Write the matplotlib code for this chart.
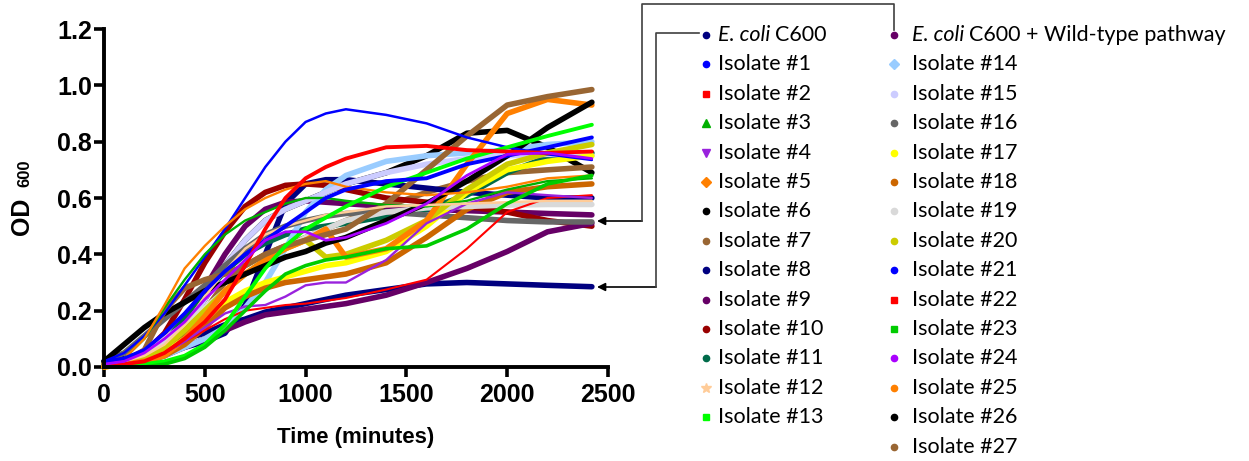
import matplotlib
matplotlib.use("Agg")
import matplotlib.pyplot as plt
from matplotlib.lines import Line2D

# ---------------- data ----------------
time_min = [0, 100, 200, 300, 400, 500, 600, 700, 800, 900, 1000, 1100, 1200,
            1400, 1600, 1800, 2000, 2200, 2420]

ecoli = [0.02, 0.03, 0.05, 0.07, 0.10, 0.12, 0.15, 0.17, 0.195, 0.21, 0.225, 0.24, 0.255, 0.275, 0.295, 0.30, 0.295, 0.29, 0.285]
wt_pathway = [0.01, 0.01, 0.02, 0.04, 0.07, 0.10, 0.13, 0.16, 0.185, 0.195, 0.205, 0.215, 0.225, 0.255, 0.30, 0.35, 0.41, 0.48, 0.51]
iso1 = [0.02, 0.05, 0.11, 0.19, 0.29, 0.39, 0.49, 0.60, 0.71, 0.80, 0.87, 0.90, 0.915, 0.895, 0.865, 0.815, 0.78, 0.755, 0.735]
iso2 = [0.00, 0.01, 0.02, 0.05, 0.09, 0.13, 0.17, 0.20, 0.21, 0.22, 0.225, 0.235, 0.245, 0.275, 0.31, 0.42, 0.55, 0.60, 0.61]
iso3 = [0.01, 0.03, 0.10, 0.21, 0.31, 0.40, 0.47, 0.52, 0.55, 0.58, 0.60, 0.60, 0.59, 0.575, 0.57, 0.59, 0.63, 0.66, 0.67]
iso4 = [0.00, 0.01, 0.02, 0.05, 0.09, 0.14, 0.19, 0.215, 0.22, 0.25, 0.29, 0.30, 0.30, 0.38, 0.51, 0.58, 0.62, 0.61, 0.60]
iso5 = [0.01, 0.03, 0.10, 0.22, 0.35, 0.43, 0.50, 0.56, 0.60, 0.63, 0.65, 0.66, 0.64, 0.62, 0.61, 0.62, 0.64, 0.67, 0.68]
iso6 = [0.01, 0.02, 0.04, 0.08, 0.14, 0.24, 0.36, 0.45, 0.52, 0.56, 0.59, 0.62, 0.65, 0.69, 0.75, 0.83, 0.84, 0.78, 0.69]
iso7 = [0.01, 0.02, 0.03, 0.06, 0.12, 0.20, 0.30, 0.36, 0.40, 0.43, 0.46, 0.49, 0.52, 0.57, 0.62, 0.66, 0.69, 0.70, 0.71]
iso8 = [0.01, 0.02, 0.03, 0.05, 0.07, 0.09, 0.12, 0.22, 0.40, 0.58, 0.65, 0.665, 0.665, 0.65, 0.635, 0.62, 0.61, 0.60, 0.60]
iso9 = [0.01, 0.02, 0.04, 0.09, 0.17, 0.28, 0.40, 0.50, 0.56, 0.585, 0.59, 0.585, 0.58, 0.57, 0.56, 0.555, 0.55, 0.545, 0.54]
iso10 = [0.01, 0.02, 0.05, 0.12, 0.24, 0.37, 0.48, 0.57, 0.62, 0.645, 0.65, 0.645, 0.63, 0.60, 0.585, 0.57, 0.55, 0.52, 0.50]
iso11 = [0.01, 0.02, 0.04, 0.09, 0.17, 0.26, 0.34, 0.40, 0.44, 0.47, 0.49, 0.50, 0.51, 0.535, 0.56, 0.61, 0.69, 0.745, 0.76]
iso12 = [0.01, 0.02, 0.04, 0.08, 0.15, 0.25, 0.34, 0.42, 0.47, 0.50, 0.52, 0.54, 0.55, 0.57, 0.575, 0.58, 0.585, 0.59, 0.59]
iso13 = [0.00, 0.00, 0.01, 0.02, 0.04, 0.08, 0.15, 0.25, 0.35, 0.43, 0.49, 0.53, 0.57, 0.64, 0.69, 0.74, 0.78, 0.82, 0.86]
iso14 = [0.01, 0.01, 0.02, 0.04, 0.07, 0.10, 0.14, 0.21, 0.30, 0.42, 0.55, 0.63, 0.68, 0.73, 0.75, 0.76, 0.77, 0.79, 0.80]
iso15 = [0.01, 0.02, 0.04, 0.08, 0.14, 0.24, 0.36, 0.45, 0.52, 0.56, 0.59, 0.62, 0.65, 0.69, 0.72, 0.74, 0.75, 0.755, 0.75]
iso16 = [0.02, 0.05, 0.11, 0.17, 0.23, 0.29, 0.36, 0.42, 0.47, 0.50, 0.52, 0.535, 0.545, 0.55, 0.54, 0.53, 0.52, 0.515, 0.515]
iso17 = [0.00, 0.01, 0.02, 0.05, 0.10, 0.17, 0.23, 0.27, 0.30, 0.32, 0.34, 0.36, 0.37, 0.41, 0.50, 0.62, 0.70, 0.73, 0.75]
iso18 = [0.01, 0.01, 0.02, 0.04, 0.08, 0.14, 0.21, 0.25, 0.28, 0.30, 0.31, 0.32, 0.33, 0.37, 0.46, 0.56, 0.62, 0.64, 0.65]
iso19 = [0.01, 0.02, 0.05, 0.10, 0.15, 0.21, 0.27, 0.33, 0.38, 0.42, 0.46, 0.49, 0.52, 0.55, 0.565, 0.57, 0.575, 0.577, 0.577]
iso20 = [0.01, 0.01, 0.03, 0.07, 0.13, 0.20, 0.27, 0.33, 0.38, 0.42, 0.45, 0.39, 0.40, 0.45, 0.52, 0.63, 0.72, 0.76, 0.79]
iso21 = [0.02, 0.03, 0.06, 0.12, 0.19, 0.27, 0.34, 0.40, 0.45, 0.50, 0.55, 0.60, 0.63, 0.66, 0.67, 0.72, 0.75, 0.78, 0.815]
iso22 = [0.00, 0.01, 0.02, 0.05, 0.10, 0.16, 0.24, 0.36, 0.49, 0.60, 0.67, 0.71, 0.74, 0.78, 0.785, 0.77, 0.765, 0.76, 0.765]
iso23 = [0.00, 0.00, 0.00, 0.01, 0.03, 0.07, 0.13, 0.20, 0.27, 0.33, 0.36, 0.38, 0.39, 0.42, 0.43, 0.49, 0.58, 0.65, 0.68]
iso24 = [0.01, 0.02, 0.05, 0.10, 0.16, 0.24, 0.31, 0.38, 0.45, 0.48, 0.48, 0.45, 0.46, 0.51, 0.58, 0.68, 0.755, 0.76, 0.74]
iso25 = [0.00, 0.01, 0.02, 0.04, 0.10, 0.18, 0.27, 0.33, 0.38, 0.42, 0.45, 0.49, 0.39, 0.42, 0.52, 0.72, 0.90, 0.95, 0.93]
iso26 = [0.02, 0.08, 0.14, 0.19, 0.23, 0.27, 0.30, 0.33, 0.36, 0.39, 0.41, 0.44, 0.46, 0.52, 0.58, 0.66, 0.75, 0.85, 0.94]
iso27 = [0.01, 0.02, 0.06, 0.20, 0.28, 0.31, 0.33, 0.36, 0.40, 0.43, 0.45, 0.47, 0.49, 0.58, 0.70, 0.82, 0.93, 0.96, 0.985]

x_ticks = [0, 500, 1000, 1500, 2000, 2500]
y_ticks = [0.0, 0.2, 0.4, 0.6, 0.8, 1.0, 1.2]

# (label, values, colour, line width, legend marker)
col1 = [
    ("E. coli C600", ecoli, "#000080", 4.0, "o"),
    ("Isolate #1", iso1, "#0000FF", 1.8, "o"),
    ("Isolate #2", iso2, "#FF0000", 1.5, "s"),
    ("Isolate #3", iso3, "#00B000", 1.7, "^"),
    ("Isolate #4", iso4, "#9922DD", 1.7, "v"),
    ("Isolate #5", iso5, "#FF8000", 1.7, "D"),
    ("Isolate #6", iso6, "#000000", 4.0, "o"),
    ("Isolate #7", iso7, "#996633", 4.0, "o"),
    ("Isolate #8", iso8, "#000080", 4.0, "o"),
    ("Isolate #9", iso9, "#660066", 4.0, "o"),
    ("Isolate #10", iso10, "#990000", 4.0, "o"),
    ("Isolate #11", iso11, "#006B4A", 4.0, "o"),
    ("Isolate #12", iso12, "#FFCC99", 1.8, "*"),
    ("Isolate #13", iso13, "#00FF00", 2.8, "s"),
]
col2 = [
    ("E. coli C600 + Wild-type pathway", wt_pathway, "#660066", 4.0, "o"),
    ("Isolate #14", iso14, "#99CCFF", 4.0, "D"),
    ("Isolate #15", iso15, "#CCCCFF", 4.0, "o"),
    ("Isolate #16", iso16, "#666666", 4.0, "o"),
    ("Isolate #17", iso17, "#FFFF00", 4.0, "o"),
    ("Isolate #18", iso18, "#CC6600", 4.0, "o"),
    ("Isolate #19", iso19, "#D9D9D9", 4.0, "o"),
    ("Isolate #20", iso20, "#CCCC00", 4.0, "o"),
    ("Isolate #21", iso21, "#0000FF", 2.8, "o"),
    ("Isolate #22", iso22, "#FF0000", 2.8, "s"),
    ("Isolate #23", iso23, "#00CC00", 2.6, "s"),
    ("Isolate #24", iso24, "#AA00FF", 2.0, "o"),
    ("Isolate #25", iso25, "#FF8000", 4.0, "o"),
    ("Isolate #26", iso26, "#000000", 4.0, "o"),
    ("Isolate #27", iso27, "#996633", 4.0, "o"),
]

# ---------------- figure ----------------
W, H = 1249, 461
fig = plt.figure(figsize=(W / 100, H / 100), dpi=100)
ax = fig.add_axes([104 / W, 1 - 367 / H, (608 - 104) / W, (367 - 29) / H])

# thick lines underneath, thin dotted-look lines on top
draw = col1 + col2
thick = [s for s in draw if s[3] >= 3]
thin = [s for s in draw if s[3] < 3]
for lab, vals, col, lw, mk in thick + thin:
    ax.plot(time_min, vals, color=col, lw=lw, solid_capstyle="round",
            solid_joinstyle="round", clip_on=False)

ax.set_xlim(0, 2500)
ax.set_ylim(0, 1.2)
ax.set_xticks(x_ticks)
ax.set_yticks(y_ticks)
ax.set_xticklabels([str(v) for v in x_ticks])
ax.set_yticklabels([f"{v:.1f}" for v in y_ticks])
for s in ["top", "right"]:
    ax.spines[s].set_visible(False)
for s in ["left", "bottom"]:
    ax.spines[s].set_linewidth(2.8)
ax.tick_params(axis="both", direction="out", length=7.5, width=2.6, color="black")
ax.tick_params(axis="y", pad=1)
ax.tick_params(axis="x", pad=4)
for lbl in ax.get_xticklabels() + ax.get_yticklabels():
    lbl.set_fontfamily("Liberation Sans")
    lbl.set_fontweight("bold")
    lbl.set_fontsize(18)

def px(x, y):
    return x / W, 1 - y / H

fig.text(*px(356, 437), "Time (minutes)", ha="center", va="center",
         family="Liberation Sans", weight="bold", size=16)
fig.text(*px(22, 216), "OD", ha="center", va="center", rotation=90,
         family="Liberation Sans", weight="bold", size=18)
fig.text(*px(25, 173), "600", ha="center", va="center", rotation=90,
         family="Liberation Sans", weight="bold", size=12)

# ---------------- legend (two columns) ----------------
row0, dy = 35, 29.4
leg_font = "Lato"
leg_size = 15.5
fig.canvas.draw()
renderer = fig.canvas.get_renderer()

def legend_column(entries, xm, xt):
    for i, (lab, vals, col, lw, mk) in enumerate(entries):
        y = row0 + dy * i
        ms = 4.5 if mk in ("o", "s") else 5.5
        if mk == "*":
            ms = 7
        fig.add_artist(Line2D([xm / W], [1 - y / H], transform=fig.transFigure,
                              marker=mk, color=col, markersize=ms, linestyle="none"))
        if lab.startswith("E. coli"):
            t1 = fig.text(*px(xt, y), "E. coli", ha="left", va="center",
                          family=leg_font, style="italic", size=leg_size)
            bb = t1.get_window_extent(renderer)
            fig.text(bb.x1 / W + 5 / W, 1 - y / H, lab[len("E. coli "):],
                     ha="left", va="center", family=leg_font, size=leg_size)
        else:
            fig.text(*px(xt, y), lab, ha="left", va="center",
                     family=leg_font, size=leg_size)

legend_column(col1, 706, 718)
legend_column(col2, 894, 912)

# ---------------- connector lines with arrows ----------------
lc = "#404040"
fig.add_artist(Line2D([699 / W, 656 / W, 656 / W], [1 - 33 / H, 1 - 33 / H, 1 - 287 / H],
                      transform=fig.transFigure, color=lc, lw=1.2))
fig.add_artist(Line2D([894 / W, 894 / W, 642 / W, 642 / W],
                      [1 - 30 / H, 1 - 4 / H, 1 - 4 / H, 1 - 221 / H],
                      transform=fig.transFigure, color=lc, lw=1.2))
for (xs, y) in [(656, 287), (642, 221)]:
    ax.annotate("", xy=(597, H - y), xycoords="figure pixels",
                xytext=(xs, H - y), textcoords="figure pixels",
                arrowprops=dict(arrowstyle="-|>", lw=1.2, color="black",
                                mutation_scale=12, shrinkA=0, shrinkB=0))

fig.savefig("out.png", dpi=100)
